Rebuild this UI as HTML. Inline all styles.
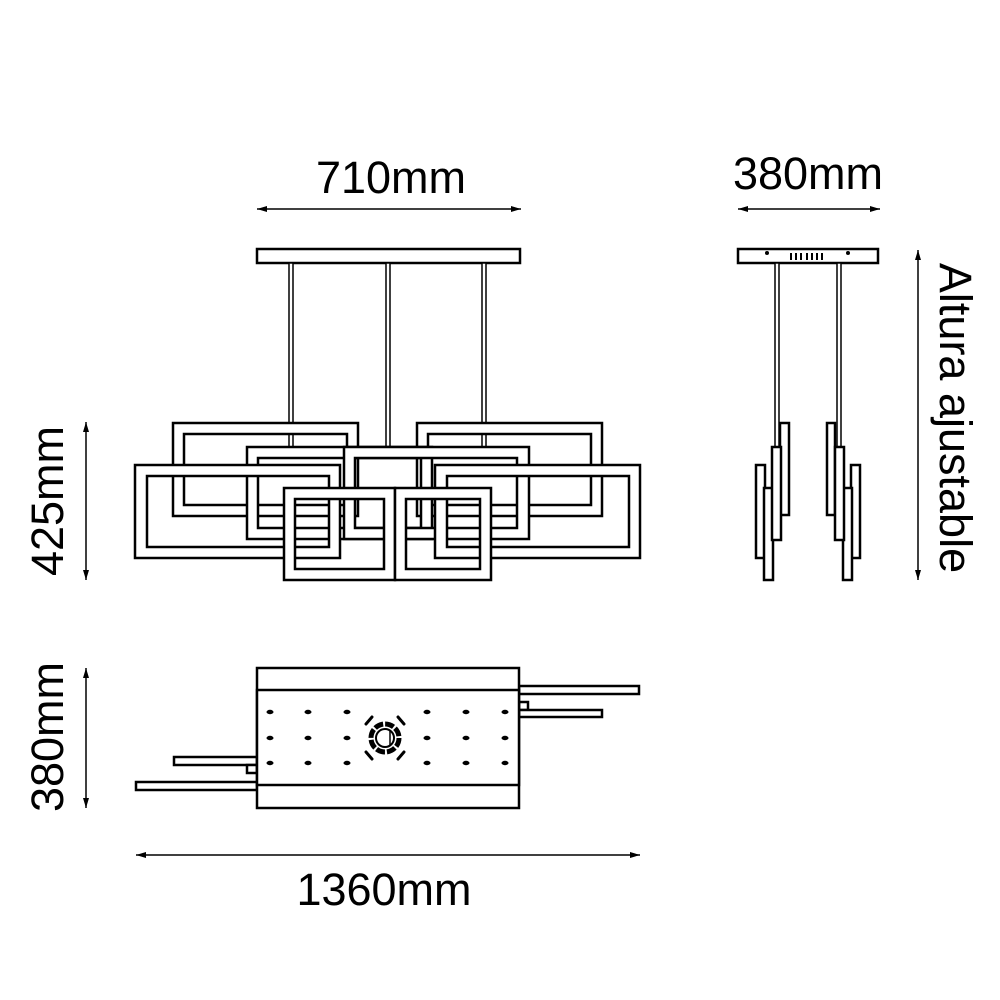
<!DOCTYPE html>
<html><head><meta charset="utf-8"><style>body{margin:0;background:#fff}svg{display:block}</style></head><body>
<svg width="1000" height="1000" viewBox="0 0 1000 1000" xmlns="http://www.w3.org/2000/svg" font-family="Liberation Sans, sans-serif">
<defs>
<marker id="a" viewBox="0 0 10 6" refX="10" refY="3" markerWidth="10" markerHeight="6" orient="auto-start-reverse" markerUnits="userSpaceOnUse"><path d="M0 0L10 3L0 6z" fill="#000"/></marker>
</defs>
<g fill="#000" font-size="45" text-anchor="middle">
<text x="391" y="193">710mm</text>
<text x="808" y="189">380mm</text>
<text x="384" y="905">1360mm</text>
<text transform="translate(63,501) rotate(-90)">425mm</text>
<text transform="translate(63,737) rotate(-90)">380mm</text>
<text transform="translate(940,418) rotate(90)">Altura ajustable</text>
</g>
<g stroke="#000" stroke-width="1.5" fill="none" marker-start="url(#a)" marker-end="url(#a)">
<line x1="257" y1="209" x2="521" y2="209"/>
<line x1="738" y1="209" x2="880" y2="209"/>
<line x1="136" y1="855" x2="640" y2="855"/>
<line x1="86" y1="422" x2="86" y2="580"/>
<line x1="86" y1="668" x2="86" y2="808"/>
<line x1="918" y1="250" x2="918" y2="580"/>
</g>
<g stroke="#000" stroke-width="2.5" fill="#fff">
<rect x="257" y="249" width="263" height="14"/>
<rect x="289" y="263" width="4" height="185" stroke-width="1.5"/>
<rect x="386" y="263" width="4" height="185" stroke-width="1.5"/>
<rect x="482" y="263" width="4" height="185" stroke-width="1.5"/>
<g fill-rule="evenodd">
<path d="M173 423H358V516H173Z M184 434V505H347V434Z"/>
<path d="M417 423H602V516H417Z M428 434V505H591V434Z"/>
<path d="M247 447H432V539H247Z M258 458V528H421V458Z"/>
<path d="M344 447H529V539H344Z M355 458V528H517V458Z"/>
<path d="M135 465H340V558H135Z M147 476V547H329V476Z"/>
<path d="M435 465H640V558H435Z M447 476V547H629V476Z"/>
<path d="M284 488H395V580H284Z M295 499V569H384V499Z"/>
<path d="M395 488H491V580H395Z M406 499V569H480V499Z"/>
</g>
<rect x="738" y="249" width="140" height="14"/>
<rect x="775" y="263" width="4" height="185" stroke-width="1.5"/>
<rect x="837" y="263" width="4" height="185" stroke-width="1.5"/>
<rect x="780" y="423" width="9" height="92"/>
<rect x="827" y="423" width="8" height="92"/>
<rect x="756" y="465" width="9" height="93"/>
<rect x="851" y="465" width="9" height="93"/>
<rect x="764" y="488" width="9" height="92"/>
<rect x="843" y="488" width="9" height="92"/>
<rect x="772" y="447" width="9" height="93"/>
<rect x="835" y="447" width="9" height="93"/>
<rect x="519" y="686" width="120" height="8"/>
<rect x="519" y="702" width="9" height="8"/>
<rect x="519" y="710" width="83" height="7"/>
<rect x="136" y="782" width="121" height="8"/>
<rect x="174" y="757" width="83" height="8"/>
<rect x="247" y="765" width="10" height="8"/>
<rect x="257" y="668" width="262" height="140"/>
<rect x="257" y="690" width="262" height="95"/>
</g>
<g fill="#000">
<circle cx="767" cy="253" r="2"/><circle cx="848" cy="253" r="2"/>
<g>
<rect x="790" y="253" width="2" height="7"/><rect x="795" y="253" width="2" height="7"/><rect x="800" y="253" width="2" height="7"/><rect x="806" y="253" width="2" height="7"/><rect x="811" y="253" width="2" height="7"/><rect x="816" y="253" width="2" height="7"/><rect x="821" y="253" width="2" height="7"/>
</g>
<g>
<ellipse cx="270" cy="712" rx="3.5" ry="2.2"/><ellipse cx="308" cy="712" rx="3.5" ry="2.2"/><ellipse cx="347" cy="712" rx="3.5" ry="2.2"/><ellipse cx="427" cy="712" rx="3.5" ry="2.2"/><ellipse cx="466" cy="712" rx="3.5" ry="2.2"/><ellipse cx="505" cy="712" rx="3.5" ry="2.2"/>
<ellipse cx="270" cy="738" rx="3.5" ry="2.2"/><ellipse cx="308" cy="738" rx="3.5" ry="2.2"/><ellipse cx="347" cy="738" rx="3.5" ry="2.2"/><ellipse cx="427" cy="738" rx="3.5" ry="2.2"/><ellipse cx="466" cy="738" rx="3.5" ry="2.2"/><ellipse cx="505" cy="738" rx="3.5" ry="2.2"/>
<ellipse cx="270" cy="763" rx="3.5" ry="2.2"/><ellipse cx="308" cy="763" rx="3.5" ry="2.2"/><ellipse cx="347" cy="763" rx="3.5" ry="2.2"/><ellipse cx="427" cy="763" rx="3.5" ry="2.2"/><ellipse cx="466" cy="763" rx="3.5" ry="2.2"/><ellipse cx="505" cy="763" rx="3.5" ry="2.2"/>
</g>
</g>
<g stroke="#000" fill="none">
<circle cx="385" cy="738" r="14" stroke-width="5" stroke-dasharray="9 2"/>
<circle cx="385" cy="738" r="9" stroke-width="2" fill="#fff"/>
<line x1="390" y1="731" x2="390" y2="745" stroke-width="1.5"/>
<g stroke-width="3" stroke-linecap="round">
<line x1="366" y1="724" x2="372" y2="717"/><line x1="404" y1="724" x2="398" y2="717"/>
<line x1="366" y1="752" x2="372" y2="759"/><line x1="404" y1="752" x2="398" y2="759"/>
</g>
</g>
</svg>
</body></html>
